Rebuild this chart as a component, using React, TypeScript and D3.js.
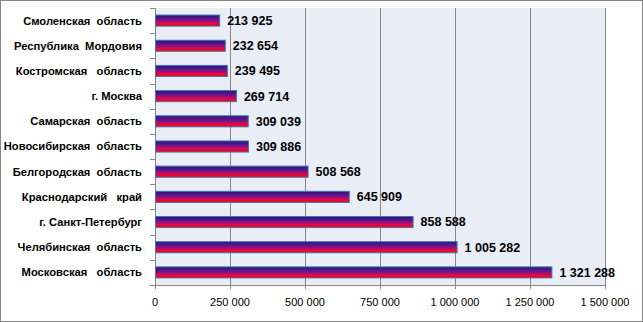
import React from "react";
import * as d3 from "d3";

const categories = [
  "Смоленская  область",
  "Республика  Мордовия",
  "Костромская   область",
  "г. Москва",
  "Самарская  область",
  "Новосибирская  область",
  "Белгородская  область",
  "Краснодарский   край",
  "г. Санкт-Петербург",
  "Челябинская  область",
  "Московская   область",
];
const values = [213925, 232654, 239495, 269714, 309039, 309886, 508568, 645909, 858588, 1005282, 1321288];
const xTicks = [0, 250000, 500000, 750000, 1000000, 1250000, 1500000];

const W = 643;
const H = 322;
const plot = { left: 155, right: 605, top: 8, bottom: 285 };

const fmt = (v: number) => {
  const s = String(v);
  return s.replace(/\B(?=(\d{3})+(?!\d))/g, " ");
};

export default function App() {
  const x = d3.scaleLinear().domain([0, 1500000]).range([plot.left, plot.right]);
  const y = d3
    .scaleBand<string>()
    .domain(categories)
    .range([plot.top, plot.bottom])
    .paddingInner(0.56)
    .paddingOuter(0.28);
  const step = (plot.bottom - plot.top) / categories.length;
  const font = "'Liberation Sans', Arial, sans-serif";

  return (
    <svg
      width={W}
      height={H}
      style={{ position: "absolute", left: 0, top: 0, background: "#fff" }}
      fontFamily={font}
    >
      <defs>
        <linearGradient id="barGrad" x1="0" y1="0" x2="0" y2="1">
          <stop offset="0%" stopColor="#23157e" />
          <stop offset="40%" stopColor="#6a148f" />
          <stop offset="75%" stopColor="#e00a4a" />
          <stop offset="100%" stopColor="#ff0000" />
        </linearGradient>
      </defs>
      <rect x={0.5} y={0.5} width={W - 1} height={H - 1} fill="#fff" stroke="#868686" />
      <rect
        x={plot.left}
        y={plot.top}
        width={plot.right - plot.left}
        height={plot.bottom - plot.top}
        fill="#e9edf6"
      />
      {xTicks.map((t) => (
        <g key={t}>
          <line
            x1={Math.round(x(t)) + 0.5}
            x2={Math.round(x(t)) + 0.5}
            y1={plot.top}
            y2={plot.bottom + 4}
            stroke="#868686"
          />
          <text
            x={x(t)}
            y={306}
            textAnchor="middle"
            fontSize={11}
            fill="#000"
          >
            {fmt(t)}
          </text>
        </g>
      ))}
      <line x1={plot.left} x2={plot.right} y1={plot.bottom + 0.5} y2={plot.bottom + 0.5} stroke="#868686" />
      <line x1={plot.left + 0.5} x2={plot.left + 0.5} y1={plot.top} y2={plot.bottom} stroke="#868686" />
      {d3.range(categories.length + 1).map((i) => (
        <line
          key={i}
          x1={plot.left - 5}
          x2={plot.left}
          y1={Math.round(plot.top + i * step) + 0.5}
          y2={Math.round(plot.top + i * step) + 0.5}
          stroke="#868686"
        />
      ))}
      {categories.map((c, i) => {
        const by = y(c)!;
        const bh = y.bandwidth();
        const cy = by + bh / 2;
        return (
          <g key={c}>
            <text
              x={142}
              y={cy}
              dy="0.35em"
              textAnchor="end"
              fontSize={11.2}
              fontWeight="bold"
              fill="#000"
              style={{ whiteSpace: "pre" }}
            >
              {c}
            </text>
            <rect
              x={x(0) + 0.5}
              y={by}
              width={x(values[i]) - x(0)}
              height={bh}
              fill="url(#barGrad)"
              stroke="#3f76b4"
              strokeWidth={1}
            />
            <text
              x={x(values[i]) + 8}
              y={cy}
              dy="0.35em"
              fontSize={12.5}
              fontWeight="bold"
              fill="#000"
            >
              {fmt(values[i])}
            </text>
          </g>
        );
      })}
    </svg>
  );
}
